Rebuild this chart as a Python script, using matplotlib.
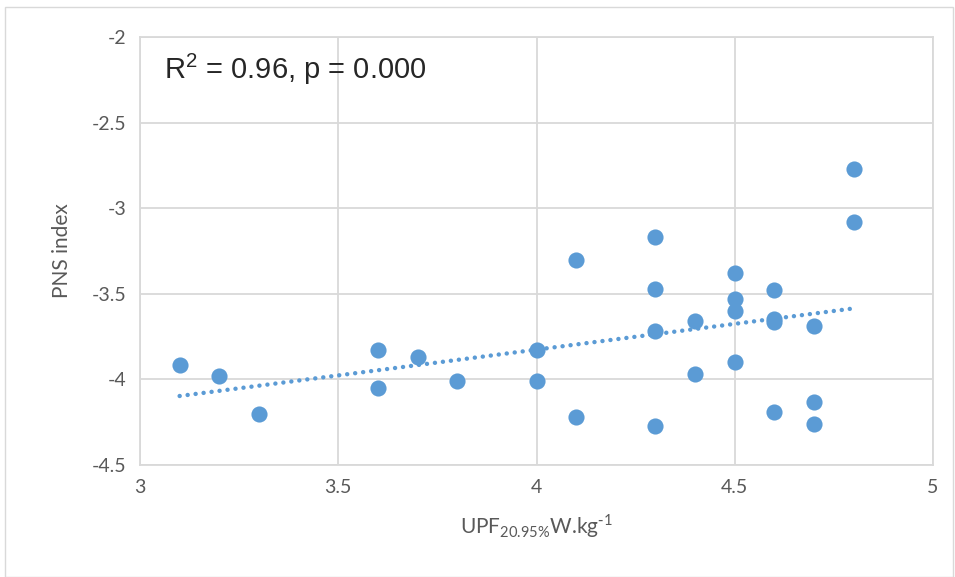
import numpy as np
import matplotlib
matplotlib.use("Agg")
import matplotlib.pyplot as plt
from matplotlib.patches import Rectangle

# data
upf = [3.1, 3.2, 3.3, 3.6, 3.6, 3.7, 3.8, 4.0, 4.0, 4.1, 4.1,
       4.3, 4.3, 4.3, 4.3, 4.4, 4.4, 4.5, 4.5, 4.5, 4.5,
       4.6, 4.6, 4.6, 4.6, 4.7, 4.7, 4.7, 4.8, 4.8]
pns = [-3.915, -3.98, -4.20, -3.83, -4.05, -3.87, -4.01, -3.83, -4.01, -3.30, -4.22,
       -3.17, -3.47, -3.72, -4.27, -3.66, -3.97, -3.38, -3.53, -3.60, -3.90,
       -3.48, -3.645, -3.665, -4.19, -3.69, -4.13, -4.26, -2.77, -3.08]

xticks = [3, 3.5, 4, 4.5, 5]
yticks = [-4.5, -4, -3.5, -3, -2.5, -2]

blue = "#5b9bd5"
grid = "#d9d9d9"
txt = "#595959"

fig = plt.figure(figsize=(9.55, 5.77), dpi=100)
ax = fig.add_axes([140 / 955, 1 - 465 / 577, (933 - 140) / 955, (465 - 37) / 577])

# outer chart border
fig.patches.append(Rectangle((5 / 955, 0.0), 948 / 955, 1 - 7 / 577,
                             transform=fig.transFigure, fill=False,
                             edgecolor=grid, linewidth=1))

ax.scatter(upf, pns, s=135, color=blue, zorder=3, linewidths=0)

# linear trendline
coef = np.polyfit(upf, pns, 1)
xs = np.array([min(upf), max(upf)])
ax.plot(xs, np.polyval(coef, xs), linestyle=(0, (0.01, 1.8)), color=blue,
        linewidth=3.2, zorder=2, dash_capstyle="round")

ax.set_xlim(3, 5)
ax.set_ylim(-4.5, -2)
ax.set_xticks(xticks)
ax.set_yticks(yticks)
ax.set_xticklabels([f"{t:g}" for t in xticks])
ax.set_yticklabels([f"{t:g}" for t in yticks])
ax.grid(True, color=grid, linewidth=1.3)
ax.set_axisbelow(True)
for s in ax.spines.values():
    s.set_color(grid)
    s.set_linewidth(1.3)
ax.tick_params(length=0, labelsize=14, colors=txt, pad=10)
for lab in ax.get_xticklabels() + ax.get_yticklabels():
    lab.set_fontfamily("Lato")

ax.set_xlabel(r"UPF$_{\mathregular{20.95\%}}$W.kg$^{\mathregular{\text{-}1}}$",
              fontsize=15, color=txt, fontfamily="Lato", labelpad=12)
ax.set_ylabel("PNS index", fontsize=15, color=txt, fontfamily="Lato", labelpad=14)

ax.text(0.03, 0.965, r"R$^{\mathregular{2}}$ = 0.96, p = 0.000", transform=ax.transAxes,
        fontsize=21, color="#262626", fontfamily="Liberation Sans", va="top")

fig.savefig("out.png", dpi=100)
